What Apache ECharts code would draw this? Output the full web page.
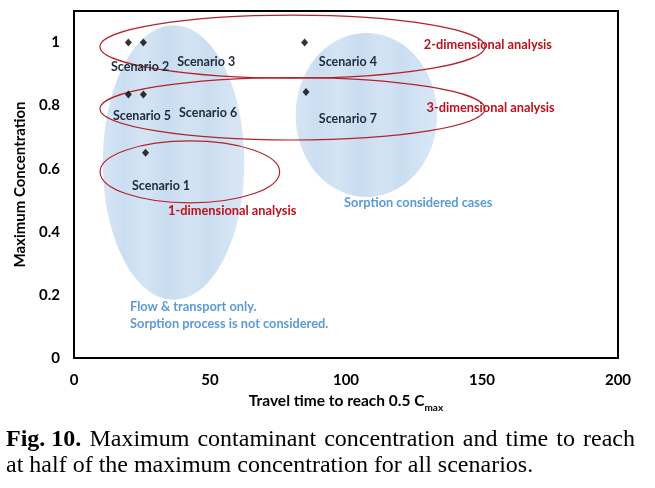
<!DOCTYPE html>
<html><head><meta charset="utf-8">
<script src="https://cdn.jsdelivr.net/npm/echarts@6/dist/echarts.min.js"></script>
<style>html,body{margin:0;padding:0;background:#fff}#c{width:655px;height:488px}</style>
</head><body><div id="c"></div>
<script>
// ---- data ----
const scenarioNames = ['Scenario 1','Scenario 2','Scenario 3','Scenario 4','Scenario 5','Scenario 6','Scenario 7'];
const travelTime = [26.3, 20, 25.5, 84.8, 20, 25.5, 85.3];
const maxConc = [0.651, 1.0, 1.0, 1.0, 0.835, 0.835, 0.843];
const xTicks = [0, 50, 100, 150, 200];
const yTicks = [0, 0.2, 0.4, 0.6, 0.8, 1];

// group regions (data units): [centerX, centerY, radiusX, radiusY]
const sorptionRegions = [[36.6, 0.62, 26.0, 0.435], [107.5, 0.77, 26.0, 0.26]];
const dimensionRegions = [[80.3, 0.987, 70.8, 0.10], [80.3, 0.79, 70.8, 0.099], [42.6, 0.59, 33.0, 0.098]];

// annotation texts (data units)
const scenarioLabelPos = [[32.0, 0.546],[24.3, 0.924],[48.6, 0.937],[100.7, 0.937],[25.0, 0.768],[49.3, 0.778],[100.7, 0.759]];
const redNoteTexts = ['2-dimensional analysis', '3-dimensional analysis', '1-dimensional analysis'];
const redNotePos = [[128.6, 0.994], [129.6, 0.794], [34.6, 0.467]];
const blueNoteTexts = ['Sorption considered cases', 'Flow & transport only.', 'Sorption process is not considered.'];
const blueNotePos = [[99.3, 0.492], [20.6, 0.162], [20.6, 0.108]];

const captionLine1 = ['Fig. 10.', 'Maximum', 'contaminant', 'concentration', 'and', 'time', 'to', 'reach'];
const captionLine2 = 'at half of the maximum concentration for all scenarios.';

const FONT = 'Lato, "Open Sans", sans-serif';
const SERIF = '"Liberation Serif", "Times New Roman", serif';
const chart = echarts.init(document.getElementById('c'), null, {renderer: 'canvas'});

const stripeFill = new echarts.graphic.LinearGradient(0, 0, 1, 0, [
  {offset: 0, color: '#d6e5f4'}, {offset: 0.15, color: '#cbdef1'}, {offset: 0.3, color: '#d4e4f3'},
  {offset: 0.45, color: '#c9dcf0'}, {offset: 0.6, color: '#d3e3f3'}, {offset: 0.75, color: '#cadef1'},
  {offset: 0.9, color: '#d5e4f4'}, {offset: 1, color: '#d8e6f5'}
]);

function ellipseRender(fill) {
  return function (params, api) {
    const c = api.coord([api.value(0), api.value(1)]);
    const s = api.size([api.value(2), api.value(3)]);
    return {
      type: 'ellipse',
      shape: {cx: c[0], cy: c[1], rx: s[0], ry: s[1]},
      style: fill ? {fill: stripeFill, stroke: null} : {fill: null, stroke: '#b3232a', lineWidth: 1.2}
    };
  };
}

function textRender(texts, color, align, weight, size) {
  return function (params, api) {
    const c = api.coord([api.value(0), api.value(1)]);
    return {
      type: 'text',
      x: c[0], y: c[1],
      style: {text: texts[params.dataIndex], fill: color, font: weight + ' ' + size + 'px ' + FONT, align: align, verticalAlign: 'middle'}
    };
  };
}

// justified caption line 1
const capSize = 24;
const mctx = document.createElement('canvas').getContext('2d');
const wFont = (i) => (i === 0 ? 'bold ' : '') + capSize + 'px ' + SERIF;
const widths = captionLine1.map((w, i) => { mctx.font = wFont(i); return mctx.measureText(w).width; });
const lineLeft = 6, lineRight = 635;
const gap = (lineRight - lineLeft - widths.reduce((a, b) => a + b, 0)) / (captionLine1.length - 1);
const captionGraphics = [];
let cx = lineLeft;
captionLine1.forEach((w, i) => {
  captionGraphics.push({type: 'text', x: cx, y: 452, style: {text: w, font: wFont(i), fill: '#000', verticalAlign: 'bottom'}});
  cx += widths[i] + gap;
});
captionGraphics.push({type: 'text', x: lineLeft, y: 478, style: {text: captionLine2, font: capSize + 'px ' + SERIF, fill: '#000', verticalAlign: 'bottom'}});

chart.setOption({
  animation: false,
  backgroundColor: '#fff',
  grid: {left: 74, right: 37, top: 11, bottom: 130, show: true, borderColor: '#000', borderWidth: 2, backgroundColor: 'transparent'},
  xAxis: {
    type: 'value', min: 0, max: 200, interval: 50,
    name: '{a|Travel time to reach 0.5 C}{s|max}', nameLocation: 'middle', nameGap: 32,
    nameTextStyle: {rich: {a: {fontFamily: FONT, fontWeight: 'bold', fontSize: 15.5, color: '#000', verticalAlign: 'bottom'}, s: {fontFamily: FONT, fontWeight: 'bold', fontSize: 10, color: '#000', verticalAlign: 'bottom', padding: [0,0,-4,0]}}},
    axisLine: {show: true, onZero: false, lineStyle: {color: '#000', width: 2}},
    axisTick: {show: false}, splitLine: {show: false},
    axisLabel: {color: '#000', fontFamily: FONT, fontWeight: 'bold', fontSize: 15, margin: 15, formatter: v => xTicks.includes(v) ? String(v) : ''}
  },
  yAxis: {
    type: 'value', min: 0, max: 1.1, interval: 0.2,
    name: 'Maximum Concentration', nameLocation: 'middle', nameGap: 40,
    nameTextStyle: {fontFamily: FONT, fontWeight: 'bold', fontSize: 15, color: '#000'},
    axisLine: {show: true, onZero: false, lineStyle: {color: '#000', width: 2}},
    axisTick: {show: false}, splitLine: {show: false},
    axisLabel: {color: '#000', fontFamily: FONT, fontWeight: 'bold', fontSize: 15, margin: 14, showMaxLabel: false,
      formatter: v => { const t = yTicks.find(k => Math.abs(k - v) < 1e-6); return t === undefined ? '' : String(t); }}
  },
  series: [
    {type: 'custom', name: 'sorption', data: sorptionRegions, renderItem: ellipseRender(true), z: 1, silent: true, clip: false},
    {type: 'custom', name: 'dimension', data: dimensionRegions, renderItem: ellipseRender(false), z: 2, silent: true, clip: false},
    {type: 'scatter', name: 'scenarios', data: travelTime.map((x, i) => [x, maxConc[i]]), symbol: 'diamond', symbolSize: [7, 8], itemStyle: {color: '#000'}, z: 5},
    {type: 'custom', name: 'scenarioLabels', data: scenarioLabelPos, renderItem: textRender(scenarioNames, '#1d2b3a', 'center', 'bold', 12.5), z: 6, silent: true, clip: false},
    {type: 'custom', name: 'redNotes', data: redNotePos, renderItem: textRender(redNoteTexts, '#c0101a', 'left', 'bold', 12.8), z: 6, silent: true, clip: false},
    {type: 'custom', name: 'blueNotes', data: blueNotePos, renderItem: textRender(blueNoteTexts, '#5b9bd5', 'left', 'bold', 12.8), z: 6, silent: true, clip: false}
  ],
  graphic: captionGraphics
});
</script></body></html>
